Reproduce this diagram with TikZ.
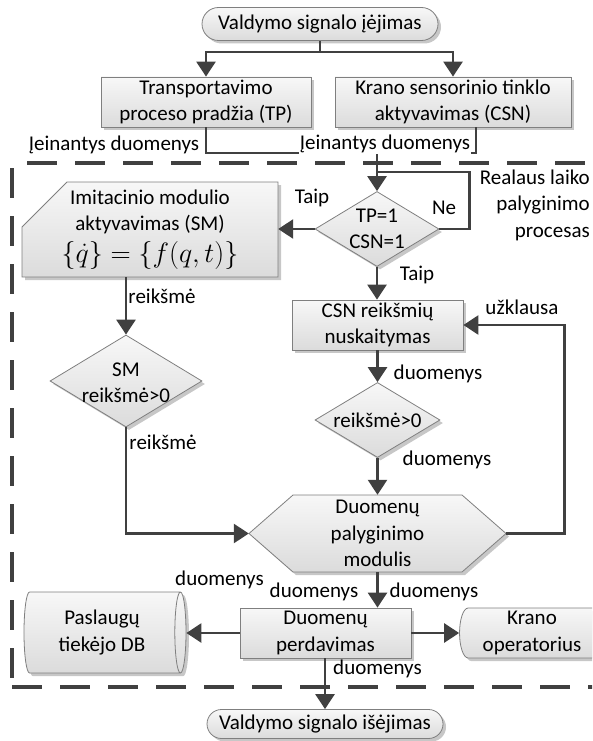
\documentclass[tikz,border=0pt]{standalone}
\usepackage{graphicx}
\usepackage{fontspec}
\setmainfont{Carlito}
\usetikzlibrary{arrows.meta,shapes.geometric,shapes.misc,shadows}
\definecolor{ln}{HTML}{404040}
\definecolor{bd}{HTML}{7F7F7F}
\begin{document}
\begin{tikzpicture}[x=1pt,y=-1pt,
  every node/.style={font=\fontsize{21pt}{26.5pt}\selectfont},
  conn/.style={draw=ln,line width=2.6pt},
  arr/.style={conn,-{Triangle[length=15pt,width=19pt]}},
  shp/.style={draw=bd,line width=0.8pt,top color=white!97!black,bottom color=white!86!black,
    drop shadow={shadow xshift=3pt,shadow yshift=-3pt,fill=black!22,opacity=1}},
  box/.style={shp,rectangle,align=center,inner sep=0pt},
  term/.style={shp,rounded rectangle,align=center,inner sep=0pt,minimum width=236pt},
  dia/.style={shp,diamond,inner sep=0pt},
  cyl/.style={shp,cylinder,shape border rotate=0,align=center,inner sep=0pt},
  txt/.style={align=center,inner sep=0pt},
  lbl/.style={inner sep=0pt},
  dashrect/.style={draw=ln,line width=4pt,dash pattern=on 30pt off 18pt}]
\useasboundingbox (0,0) rectangle (592,741);
\clip (0,0) rectangle (592,741);
% dashed frame
\draw[dashrect] (27,163) -- (610,163);
\draw[dashrect] (12,168) -- (12,690);
\draw[dashrect] (12,687) -- (610,687);
% shapes
\node[term,minimum height=33pt] (in) at (320,24) {Valdymo signalo įėjimas};
\node[box,minimum width=210pt,minimum height=50pt] (tp) at (206,102) {Transportavimo\\proceso pradžia (TP)};
\node[box,minimum width=236pt,minimum height=50pt] (csn) at (453,102) {Krano sensorinio tinklo\\aktyvavimas (CSN)};
\path[shp] (22,227) -- (67,182) -- (278,182) -- (278,277) -- (22,277) -- cycle;
\node[txt,minimum width=256pt,minimum height=95pt] (sm) at (150,229.5) {Imitacinio modulio\\aktyvavimas (SM)\\[5pt]\scalebox{1.35}{$\{\dot{q}\}=\{f(q,t)\}$}};
\node[dia,minimum width=124pt,minimum height=75pt] (tpd) at (377,229) {};
\node[txt] (tpdt) at (377,229) {TP=1\\CSN=1};
\node[box,minimum width=171pt,minimum height=50pt] (cr) at (377.5,325) {CSN reikšmių\\nuskaitymas};
\node[dia,minimum width=152pt,minimum height=92pt] (smd) at (126,381) {};
\node[txt] (smdt) at (126,383) {SM\\reikšmė>0};
\node[dia,minimum width=125pt,minimum height=75pt] (rd) at (377.5,420) {};
\node[txt] (rdt) at (377.5,420) {reikšmė>0};
\path[shp] (249,533.5) -- (293,495) -- (462,495) -- (506,533.5) -- (462,572) -- (293,572) -- cycle;
\node[txt,minimum width=257pt,minimum height=77pt] (hex) at (377.5,533.5) {Duomenų\\palyginimo\\modulis};
\node[box,minimum width=171pt,minimum height=50pt] (pd) at (325.5,633) {Duomenų\\perdavimas};
\node[cyl,minimum height=162pt,minimum width=81pt,aspect=0.25] (db) at (102,632.5) {Paslaugų\\tiekėjo DB};
\node[cyl,minimum height=154pt,minimum width=50pt,aspect=0.4] (kr) at (532,633) {Krano\\operatorius};
\node[term,minimum height=29pt] (out) at (325,724) {Valdymo signalo išėjimas};
% connectors
\coordinate (j1) at (320,52);
\coordinate (j2) at (377,153);
\coordinate (j3) at (377,172);
\draw[conn] (in.south) -- (j1);
\draw[arr] (j1) -| (tp.north);
\draw[arr] (j1) -| (csn.north);
\draw[conn] (tp.south) |- (j2);
\draw[conn] ([xshift=23pt]csn.south) |- (j2);
\draw[arr] (j2) -- (tpd.north);
\draw[conn] (tpd.east) -- ++(30,0) |- (j3);
\draw[arr] (tpd.west) -- (tpd.west -| sm.east);
\draw[arr] (tpd.south) -- (tpd.south |- cr.north);
\draw[arr] (cr.south) -- (rd.north);
\draw[arr] (rd.south) -- (hex.north);
\draw[arr] (hex.east) -- ++(58,0) |- (cr.east);
\draw[arr] (sm.south -| smd.north) -- (smd.north);
\draw[arr] (smd.south) |- (hex.west);
\draw[arr] (hex.south) -- (hex.south |- pd.north);
\draw[arr] (pd.west) -- (pd.west -| db.east);
\draw[arr] (pd.east) -- (pd.east -| kr.west);
\draw[arr] (pd.south -| out.north) -- (out.north);
% labels
\node[lbl] (l1) at (114,145) {Įeinantys duomenys};
\node[lbl,fill=white,inner sep=1pt] (l2) at (385,144) {Įeinantys duomenys};
\node[lbl] (l3) at (312,198) {Taip};
\node[lbl] (l4) at (444,208) {Ne};
\node[lbl,align=right,anchor=east] (l5) at (590,205) {Realaus laiko\\palyginimo\\procesas};
\node[lbl] (l6) at (417,275) {Taip};
\node[lbl] (l7) at (522,307) {užklausa};
\node[lbl] (l8) at (438,374) {duomenys};
\node[lbl] (l9) at (447,460) {duomenys};
\node[lbl] (l10) at (162,296) {reikšmė};
\node[lbl] (l11) at (163,442) {reikšmė};
\node[lbl] (l12) at (219.5,580) {duomenys};
\node[lbl] (l13) at (314,592) {duomenys};
\node[lbl] (l14) at (434,592) {duomenys};
\node[lbl] (l15) at (377.5,669) {duomenys};
\end{tikzpicture}
\end{document}
